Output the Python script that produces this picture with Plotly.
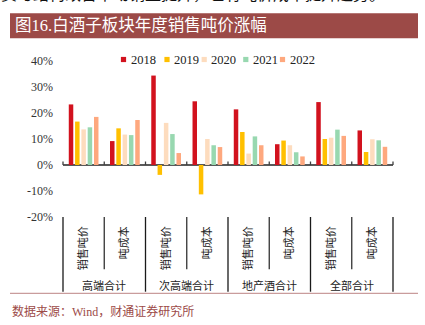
import plotly.graph_objects as go

# Categories: four liquor segments, each split into price / cost per ton
groups = ["高端合计", "次高端合计", "地产酒合计", "全部合计"]
subs = ["销售吨价", "吨成本"]
years = ["2018", "2019", "2020", "2021", "2022"]

# Year-on-year change (%) per category, in order: group x sub
v2018 = [23.3, 9.2, 34.4, 24.5, 21.4, 8.0, 24.2, 13.3]
v2019 = [16.7, 14.1, -3.8, -11.3, 12.7, 9.4, 10.0, 5.0]
v2020 = [13.7, 11.7, 16.2, 10.0, 4.4, 7.6, 10.5, 9.9]
v2021 = [14.5, 11.5, 11.9, 7.6, 11.0, 4.9, 13.6, 9.5]
v2022 = [18.5, 17.3, 4.6, 6.9, 7.6, 3.3, 11.2, 7.0]

y_ticks = [-20, -10, 0, 10, 20, 30, 40]

series = [v2018, v2019, v2020, v2021, v2022]
colors = ["#d2121e", "#ffc000", "#fddcbe", "#98d8b0", "#fea87e"]

W, H = 425, 325
ML, MR, MT, MB = 63, 32, 61, 108
PW, PH = W - ML - MR, H - MT - MB


def px(x):
    return (x - ML) / PW


def py(y):
    return (H - MB - y) / PH


cats = [f"{g}|{s}" for g in groups for s in subs]
xs = list(range(len(cats)))
n_cat = len(cats)

fig = go.Figure()
for yr, vals, c in zip(years, series, colors):
    fig.add_trace(go.Bar(x=xs, y=vals, name=yr, marker=dict(color=c, line=dict(width=0)),
                         showlegend=False))

serif_cjk = "Liberation Serif, Noto Sans CJK SC"
shapes = []
annotations = []

# title banner
shapes.append(dict(type="rect", xref="paper", yref="paper", x0=px(10), x1=px(418),
                   y0=py(38.3), y1=py(13.3), fillcolor="#9c4a47", line=dict(width=0), layer="below"))
annotations.append(dict(xref="paper", yref="paper", x=px(12.5), y=py(25.8), xanchor="left",
                        yanchor="middle", showarrow=False, text="图16.白酒子板块年度销售吨价涨幅",
                        font=dict(family=serif_cjk, size=16.5, color="#ffffff")))

# running text of the page above the figure (only its lower part falls on the page)
annotations.append(dict(xref="paper", yref="paper", x=px(-1), y=py(-5), xanchor="left",
                        yanchor="middle", showarrow=False,
                        text="资与结构改善带动销量提升，也有吨价成本提升趋势。",
                        font=dict(family=serif_cjk, size=16, color="#111111")))

# custom legend: small squares followed by the year
leg_sq = [123.5, 167.0, 204.2, 245.8, 282.5]
for yr, c, cx in zip(years, colors, leg_sq):
    shapes.append(dict(type="rect", xref="paper", yref="paper", x0=px(cx - 2.6), x1=px(cx + 2.6),
                       y0=py(62.1), y1=py(56.9), fillcolor=c, line=dict(width=0)))
    annotations.append(dict(xref="paper", yref="paper", x=px(cx + 5), y=py(59.8), xanchor="left",
                            yanchor="middle", showarrow=False, text=yr,
                            font=dict(family="Liberation Serif", size=12.5, color="#222222")))

# small tick marks on the zero line at category boundaries
for k in range(n_cat + 1):
    xp = k / n_cat
    shapes.append(dict(type="line", xref="paper", yref="paper", x0=xp, x1=xp,
                       y0=py(165), y1=py(161.5), line=dict(color="#404040", width=1.3)))

# category dividers below the plot
for k in range(n_cat + 1):
    xp = k / n_cat
    bottom = 291.7 if k % 2 == 0 else 269.3
    col = "#1a1a1a" if k % 2 == 0 else "#333333"
    shapes.append(dict(type="line", xref="paper", yref="paper", x0=xp, x1=xp,
                       y0=py(H - MB), y1=py(bottom), line=dict(color=col, width=1.3)))

# group labels
for i, g in enumerate(groups):
    annotations.append(dict(xref="paper", yref="paper", x=(2 * i + 1) / n_cat, y=py(285),
                            xanchor="center", yanchor="middle", showarrow=False, text=g,
                            font=dict(family=serif_cjk, size=11, color="#222222")))

# bottom rule and source line
shapes.append(dict(type="line", xref="paper", yref="paper", x0=px(10), x1=px(418),
                   y0=py(293.3), y1=py(293.3), line=dict(color="#c99c9c", width=1.3)))
annotations.append(dict(xref="paper", yref="paper", x=px(10), y=py(311), xanchor="left",
                        yanchor="middle", showarrow=False, text="数据来源：Wind，财通证券研究所",
                        font=dict(family=serif_cjk, size=12, color="#9c4a47")))

fig.update_layout(
    width=W, height=H,
    margin=dict(l=ML, r=MR, t=MT, b=MB, pad=0),
    paper_bgcolor="#ffffff", plot_bgcolor="#ffffff",
    barmode="group", bargap=0.236, bargroupgap=0.286,
    shapes=shapes, annotations=annotations,
    xaxis=dict(range=[-0.5, n_cat - 0.5], tickmode="array", tickvals=xs,
               ticktext=[s for g in groups for s in subs], tickangle=-90,
               showgrid=False, zeroline=False, showline=False, ticks="",
               ticklabelstandoff=6,
               tickfont=dict(family=serif_cjk, size=11, color="#222222")),
    yaxis=dict(range=[-20, 40], tickmode="array", tickvals=y_ticks,
               ticktext=[f"{v}%" for v in y_ticks], showgrid=False, showline=False,
               zeroline=True, zerolinecolor="#595959", zerolinewidth=2, ticks="",
               ticklabelstandoff=9,
               tickfont=dict(family="Liberation Serif", size=12, color="#333333")),
    showlegend=False,
)

fig.write_html("out.html")
